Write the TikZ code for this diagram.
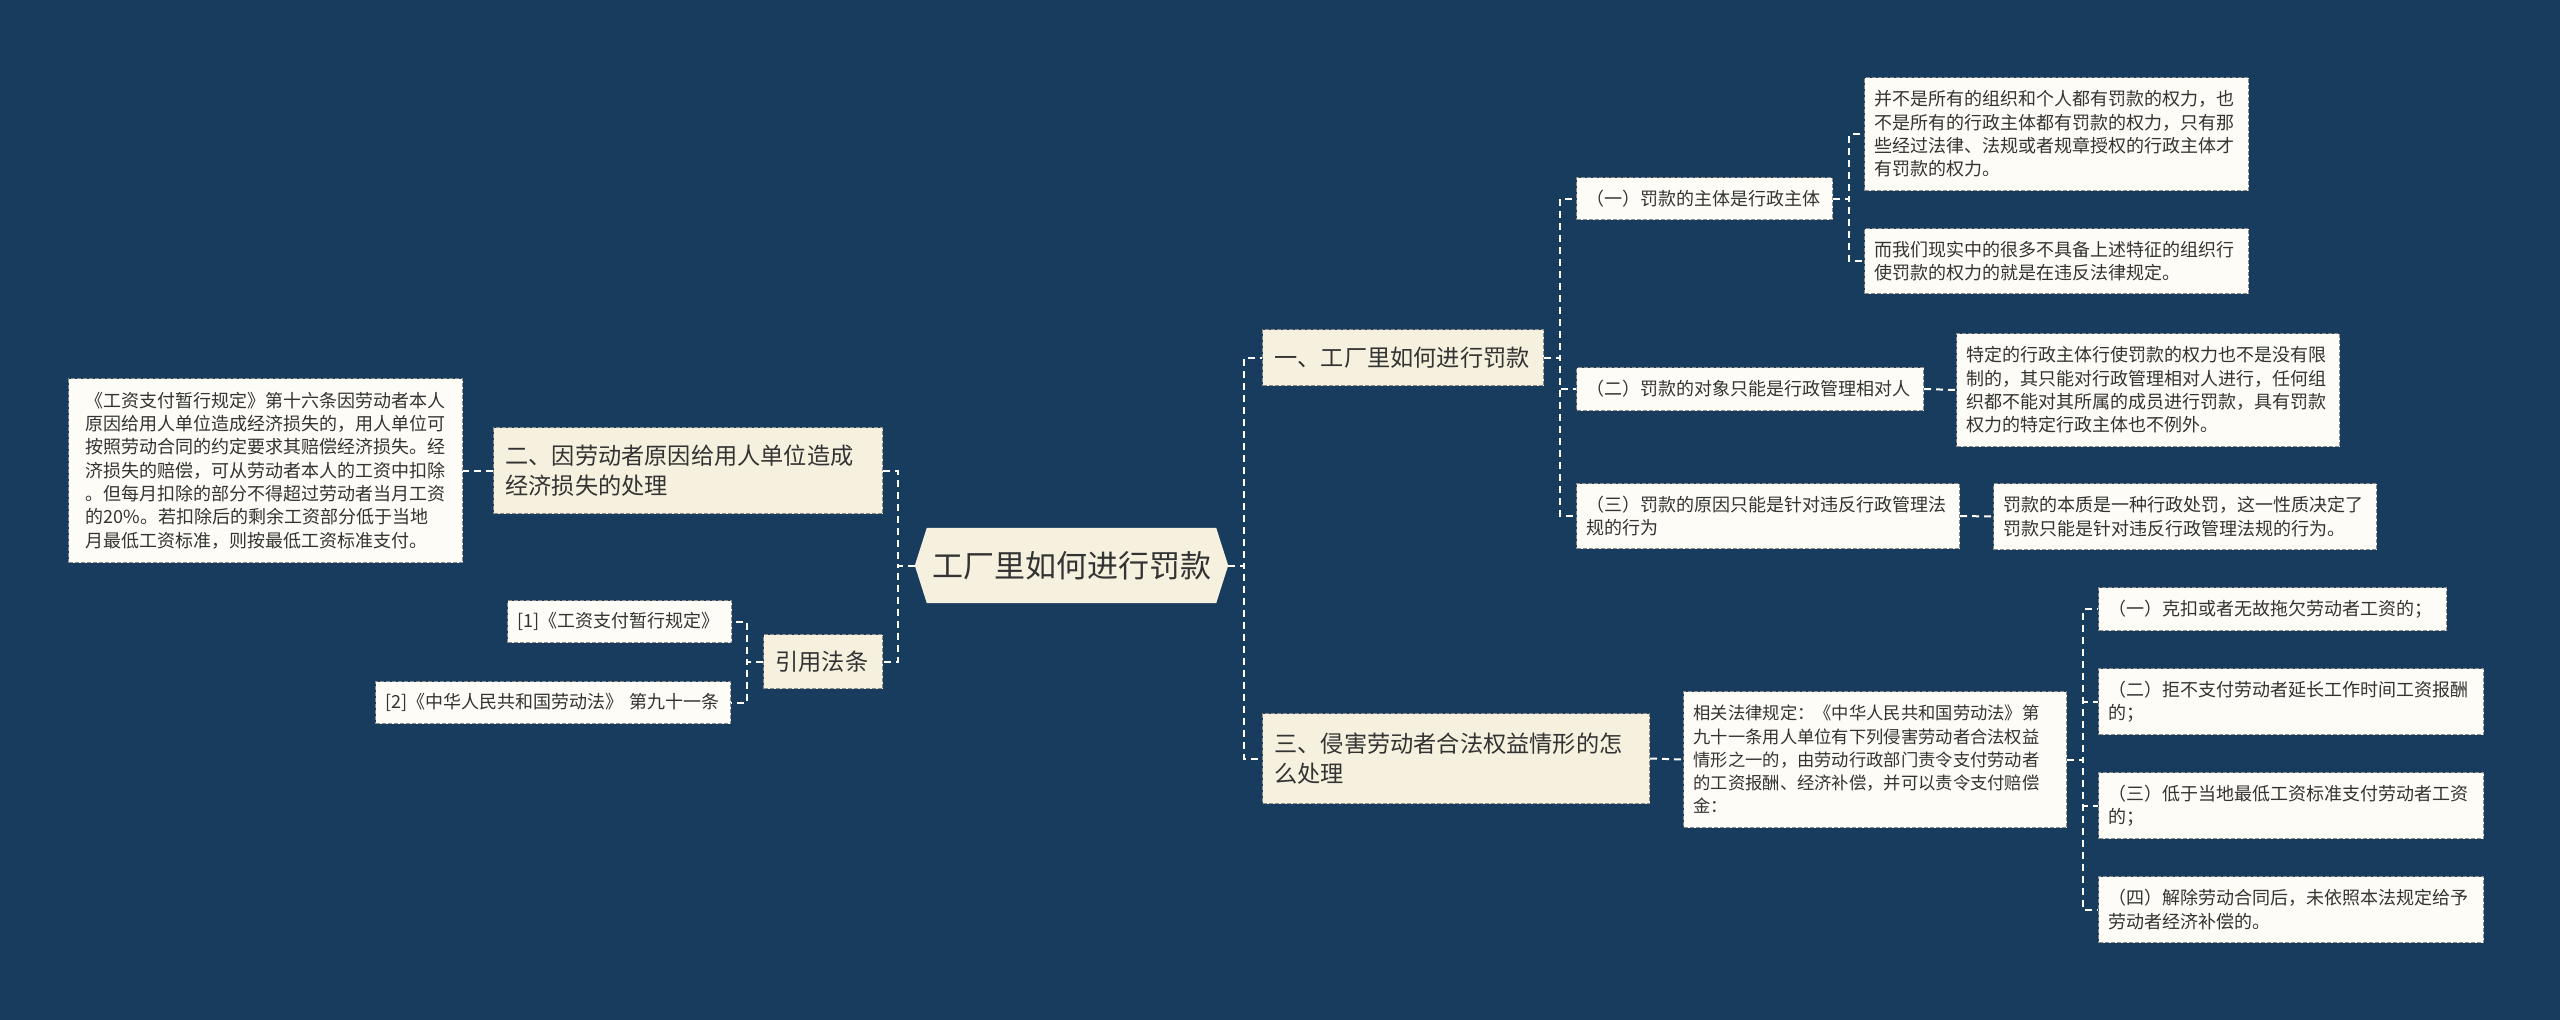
\documentclass[tikz,border=0pt]{standalone}
\usepackage{fontspec}
\setmainfont{Noto Sans CJK SC}
\usetikzlibrary{backgrounds}
\definecolor{bg}{HTML}{173C5D}
\definecolor{cream}{HTML}{F6F1DE}
\definecolor{paper}{HTML}{FDFCF6}
\definecolor{txt}{HTML}{333333}
\definecolor{bord}{HTML}{8A8A8A}
\begin{document}
\begin{tikzpicture}[x=1pt,y=-1pt,
 box/.style={anchor=north west, align=left, inner ysep=0pt, text=txt, draw=bord, line width=1pt, dash pattern=on 4pt off 2pt},
 lvone/.style={box, fill=cream, inner xsep=12pt, font=\fontsize{23.2}{29.3}\selectfont},
 lvtwo/.style={box, fill=paper, inner xsep=10pt, font=\fontsize{18}{23.3}\selectfont},
 conn/.style={draw=white, line width=2pt, dash pattern=on 7pt off 5pt},
 sz/.style n args={3}{minimum width=#1pt, minimum height=#2pt, text width=#3pt}
]
\useasboundingbox (0,0) rectangle (2560,1020);
\begin{scope}[on background layer]
\fill[bg] (0,0) rectangle (2560,1020);
\end{scope}

% centre
\node[minimum width=313pt, minimum height=75pt, inner sep=0pt, text=txt, font=\fontsize{31}{36}\selectfont] (c) at (1071.5,565.5) {工厂里如何进行罚款};
\begin{scope}[on background layer]
\fill[cream] (c.west) -- ([xshift=12pt]c.north west) -- ([xshift=-12pt]c.north east) -- (c.east) -- ([xshift=-12pt]c.south east) -- ([xshift=12pt]c.south west) -- cycle;
\end{scope}

% left side
\node[lvone, sz={389}{86}{365}] (l2) at (493,427) {二、因劳动者原因给用人单位造成\\经济损失的处理};
\node[lvtwo, inner xsep=17pt, sz={394}{184}{360}] (l3) at (68,378) {《工资支付暂行规定》第十六条因劳动者本人\\原因给用人单位造成经济损失的，用人单位可\\按照劳动合同的约定要求其赔偿经济损失。经\\济损失的赔偿，可从劳动者本人的工资中扣除\\。但每月扣除的部分不得超过劳动者当月工资\\的20\%。若扣除后的剩余工资部分低于当地\\月最低工资标准，则按最低工资标准支付。};
\node[lvone, sz={119}{54}{95}] (lr) at (763,634) {引用法条};
\node[lvtwo, sz={224}{42}{204}] (f1) at (507,600) {[1]《工资支付暂行规定》};
\node[lvtwo, sz={355}{42}{335}] (f2) at (375,681) {[2]《中华人民共和国劳动法》 第九十一条};

% right side, branch one
\node[lvone, sz={281}{56}{257}] (r1) at (1262,329) {一、工厂里如何进行罚款};
\node[lvtwo, sz={256}{42}{236}] (a) at (1576,177) {（一）罚款的主体是行政主体};
\node[lvtwo, sz={384}{113}{364}] (a1) at (1864,77) {并不是所有的组织和个人都有罚款的权力，也\\不是所有的行政主体都有罚款的权力，只有那\\些经过法律、法规或者规章授权的行政主体才\\有罚款的权力。};
\node[lvtwo, sz={384}{65}{364}] (a2) at (1864,228) {而我们现实中的很多不具备上述特征的组织行\\使罚款的权力的就是在违反法律规定。};
\node[lvtwo, sz={347}{43}{327}] (b) at (1576,367) {（二）罚款的对象只能是行政管理相对人};
\node[lvtwo, sz={383}{113}{363}] (b1) at (1956,333) {特定的行政主体行使罚款的权力也不是没有限\\制的，其只能对行政管理相对人进行，任何组\\织都不能对其所属的成员进行罚款，具有罚款\\权力的特定行政主体也不例外。};
\node[lvtwo, sz={383}{65}{363}] (cc) at (1576,483) {（三）罚款的原因只能是针对违反行政管理法\\规的行为};
\node[lvtwo, sz={383}{66}{363}] (c1) at (1993,483) {罚款的本质是一种行政处罚，这一性质决定了\\罚款只能是针对违反行政管理法规的行为。};

% right side, branch three
\node[lvone, sz={387}{90}{363}] (r3) at (1262,713) {三、侵害劳动者合法权益情形的怎\\么处理};
\node[lvtwo, font=\fontsize{17.3}{23.3}\selectfont, sz={383}{136}{363}] (law) at (1683,691) {相关法律规定：《中华人民共和国劳动法》第\\九十一条用人单位有下列侵害劳动者合法权益\\情形之一的，由劳动行政部门责令支付劳动者\\的工资报酬、经济补偿，并可以责令支付赔偿\\金：};
\node[lvtwo, sz={348}{43}{328}] (d1) at (2098,587) {（一）克扣或者无故拖欠劳动者工资的；};
\node[lvtwo, sz={385}{66}{365}] (d2) at (2098,668) {（二）拒不支付劳动者延长工作时间工资报酬\\的；};
\node[lvtwo, sz={385}{66}{365}] (d3) at (2098,772) {（三）低于当地最低工资标准支付劳动者工资\\的；};
\node[lvtwo, sz={385}{66}{365}] (d4) at (2098,876) {（四）解除劳动合同后，未依照本法规定给予\\劳动者经济补偿的。};

% connectors
\draw[conn] (c.west) -- ++(-17,0) |- (l2.east);
\draw[conn] (c.west) -- ++(-17,0) |- (lr.east);
\draw[conn] (l2.west) -- (l3.east);
\draw[conn] (lr.west) -- ++(-16,0) |- (f1.east);
\draw[conn] (lr.west) -- ++(-16,0) |- (f2.east);

\draw[conn] (c.east) -- ++(16,0) |- (r1.west);
\draw[conn] (c.east) -- ++(16,0) |- (r3.west);
\draw[conn] (r1.east) -- ++(16,0) |- (a.west);
\draw[conn] (r1.east) -- ++(16,0) |- (b.west);
\draw[conn] (r1.east) -- ++(16,0) |- (cc.west);
\draw[conn] (a.east) -- ++(16,0) |- (a1.west);
\draw[conn] (a.east) -- ++(16,0) |- (a2.west);
\draw[conn] (b.east) -- (b1.west);
\draw[conn] (cc.east) -- (c1.west);
\draw[conn] (r3.east) -- (law.west);
\draw[conn] (law.east) -- ++(16,0) |- (d1.west);
\draw[conn] (law.east) -- ++(16,0) |- (d2.west);
\draw[conn] (law.east) -- ++(16,0) |- (d3.west);
\draw[conn] (law.east) -- ++(16,0) |- (d4.west);
\end{tikzpicture}
\end{document}
